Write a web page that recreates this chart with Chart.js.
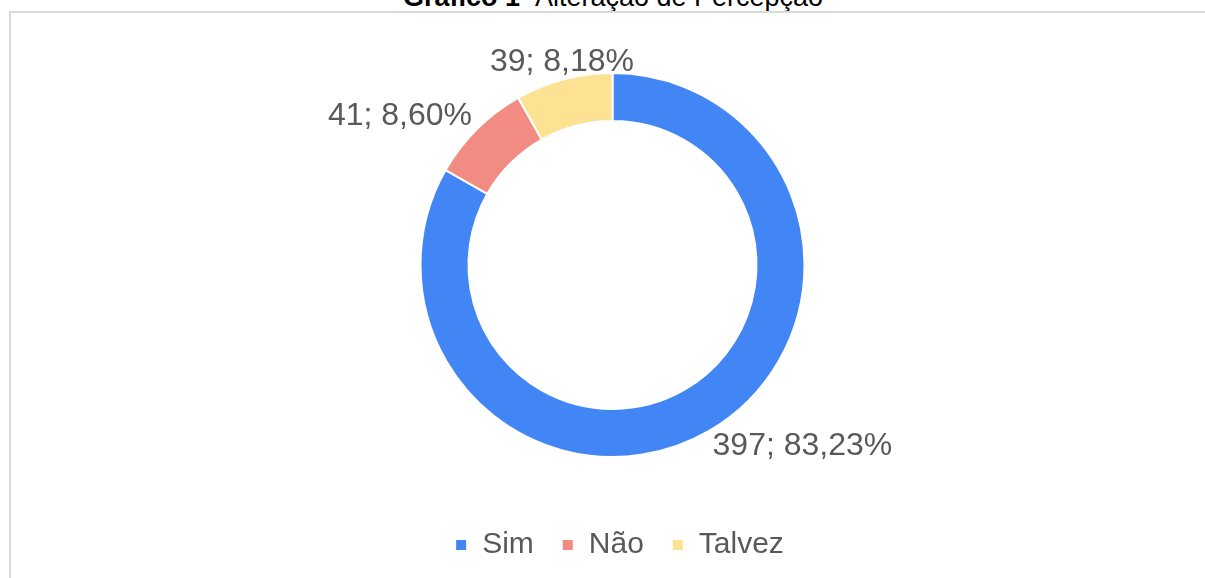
<!DOCTYPE html>
<html>
<head>
<meta charset="utf-8">
<script src="https://cdn.jsdelivr.net/npm/chart.js@4/dist/chart.umd.min.js"></script>
<style>
  html, body { margin: 0; padding: 0; background: #fff; overflow: hidden; }
  #title {
    position: absolute; left: 0; width: 1226px; top: -16px;
    text-align: center; font: 27px/27px "Liberation Sans", Arial, sans-serif; color: #000;
    white-space: nowrap;
  }
  #frame {
    position: absolute; left: 9px; top: 11px; right: -2px; bottom: -2px;
    border-left: 2px solid #d9d9d9; border-top: 2px solid #d9d9d9;
  }
  #wrap { position: absolute; left: 0; top: 0; width: 1205px; height: 578px; }
</style>
</head>
<body>
<div id="title"><b>Gráfico 1</b>- Alteração de Percepção</div>
<div id="frame"></div>
<div id="wrap"><canvas id="chart"></canvas></div>
<script>
var categories = ["Sim", "Não", "Talvez"];
var counts = [397, 41, 39];
var percents = ["83,23%", "8,60%", "8,18%"];
var colors = ["#4285F4", "#F28B82", "#FDE293"];

var textColor = "#595959";
var fontFamily = '"Liberation Sans", Arial, sans-serif';

// labels outside the ring, "count; percent"
var outsideLabels = {
  id: "outsideLabels",
  afterDatasetsDraw: function (chart) {
    var ctx = chart.ctx;
    var meta = chart.getDatasetMeta(0);
    ctx.save();
    ctx.font = "32px " + fontFamily;
    ctx.fillStyle = textColor;
    ctx.textBaseline = "middle";
    meta.data.forEach(function (arc, i) {
      var p = arc.getProps(["x", "y", "startAngle", "endAngle", "outerRadius"], true);
      var mid = (p.startAngle + p.endAngle) / 2;
      var dx = Math.cos(mid), dy = Math.sin(mid);
      var r = p.outerRadius + 7;
      var px = p.x + dx * r;
      var py = p.y + dy * r;
      if (Math.abs(dx) < 0.3) ctx.textAlign = "center";
      else ctx.textAlign = dx > 0 ? "left" : "right";
      ctx.fillText(counts[i] + "; " + percents[i], px, py + dy * 11);
    });
    ctx.restore();
  },
};

// extra room under the legend row, and nudge it right a bit
var legendRoom = {
  id: "legendRoom",
  beforeInit: function (chart) {
    var fit = chart.legend.fit;
    chart.legend.fit = function () {
      fit.bind(chart.legend)();
      this.height += 8;
    };
  },
  afterLayout: function (chart) {
    chart.legend.left += 7;
    chart.legend.right += 7;
  },
};

new Chart("chart", {
  type: "doughnut",
  data: {
    labels: categories,
    datasets: [
      {
        data: counts,
        backgroundColor: colors,
        borderColor: "#ffffff",
        borderWidth: 2,
        radius: 192,
        cutout: "75%",
      },
    ],
  },
  options: {
    responsive: true,
    maintainAspectRatio: false,
    animation: false,
    layout: { padding: { left: 20, right: 0, top: 28, bottom: 0 } },
    plugins: {
      tooltip: { enabled: false },
      legend: {
        position: "bottom",
        labels: {
          boxWidth: 12,
          boxHeight: 12,
          padding: 28,
          color: textColor,
          font: { size: 30, family: fontFamily },
        },
      },
    },
  },
  plugins: [outsideLabels, legendRoom],
});
</script>
</body>
</html>
